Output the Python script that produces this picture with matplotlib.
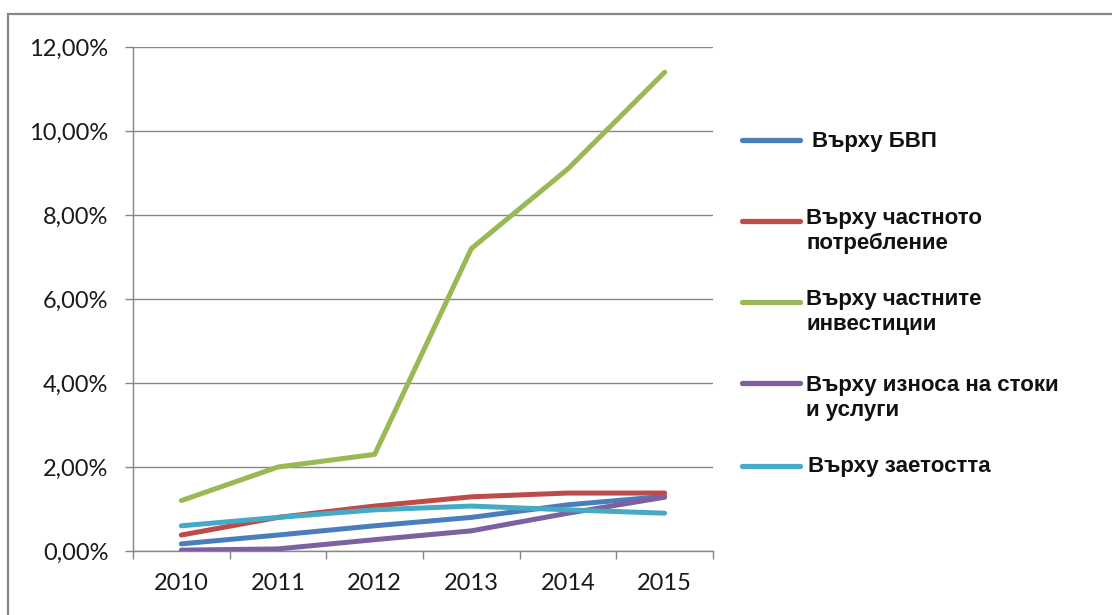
import matplotlib
matplotlib.use("Agg")
import matplotlib.pyplot as plt
from matplotlib.patches import Rectangle
from matplotlib.lines import Line2D
from matplotlib.ticker import FuncFormatter, FixedLocator, NullFormatter

years = ["2010", "2011", "2012", "2013", "2014", "2015"]
gdp = [0.17, 0.38, 0.60, 0.80, 1.10, 1.30]
consumption = [0.38, 0.80, 1.07, 1.29, 1.38, 1.38]
investment = [1.20, 2.00, 2.30, 7.20, 9.10, 11.40]
exports = [0.02, 0.05, 0.27, 0.48, 0.90, 1.28]
employment = [0.60, 0.80, 0.98, 1.07, 0.98, 0.90]

labels = ["Върху БВП", "Върху частното\nпотребление", "Върху частните\nинвестиции",
          "Върху износа на стоки\nи услуги", "Върху заетостта"]
colors = ["#4A7EBB", "#BE4B48", "#98B954", "#7D60A0", "#46AAC5"]
series = [gdp, consumption, investment, exports, employment]

W, H = 1112, 615
fig = plt.figure(figsize=(W / 100, H / 100), dpi=100)
# outer chart border
fig.add_artist(Rectangle((8 / W, -0.05), 1.2, 1 - 14 / H + 0.05,
                         transform=fig.transFigure, fill=False,
                         edgecolor="#868686", linewidth=1.6))

ax = fig.add_axes([133 / W, 1 - 551 / H, (713 - 133) / W, (551 - 47) / H])

xs = list(range(len(years)))
for vals, col in zip(series, colors):
    ax.plot(xs, vals, color=col, linewidth=3.6, solid_capstyle="round",
            solid_joinstyle="round", zorder=3)

ax.set_xlim(-0.5, len(years) - 0.5)
ax.set_ylim(0, 12)
ax.yaxis.set_major_locator(FixedLocator([0, 2, 4, 6, 8, 10, 12]))
ax.yaxis.set_major_formatter(FuncFormatter(lambda v, p: f"{v:.2f}%".replace(".", ",")))
ax.grid(axis="y", color="#868686", linewidth=1.0)
ax.set_axisbelow(True)

ax.xaxis.set_major_locator(FixedLocator([i - 0.5 for i in range(len(years) + 1)]))
ax.xaxis.set_major_formatter(NullFormatter())
ax.xaxis.set_minor_locator(FixedLocator(xs))
ax.set_xticklabels(years, minor=True)
ax.tick_params(axis="x", which="minor", length=0, pad=15.5, labelsize=17, labelcolor="#1a1a1a")
ax.tick_params(axis="x", which="major", length=5.8, color="#868686", width=1.0)
ax.tick_params(axis="y", length=5.8, color="#868686", width=1.0, pad=12, labelsize=17,
               labelcolor="#1a1a1a")
for lab in ax.get_xticklabels(minor=True) + ax.get_yticklabels():
    lab.set_fontfamily("Lato")

for s in ["top", "right"]:
    ax.spines[s].set_visible(False)
for s in ["left", "bottom"]:
    ax.spines[s].set_color("#868686")
    ax.spines[s].set_linewidth(1.0)

# legend
line_y = [140, 221, 302, 383, 466]
cap_top = [132, 209, 290, 376, 457]
text_x = [812, 806, 806, 806, 808]
for lab, col, ly, ct, tx in zip(labels, colors, line_y, cap_top, text_x):
    fy = 1 - ly / H
    fig.add_artist(Line2D([742 / W, 800 / W], [fy, fy], color=col, linewidth=3.8,
                          solid_capstyle="round", transform=fig.transFigure))
    fig.text(tx / W, 1 - (ct - 1) / H, lab, fontsize=16, fontweight="bold",
             family="Liberation Sans", color="#111111", va="top", ha="left",
             linespacing=1.25)

fig.savefig("out.png", dpi=100)
